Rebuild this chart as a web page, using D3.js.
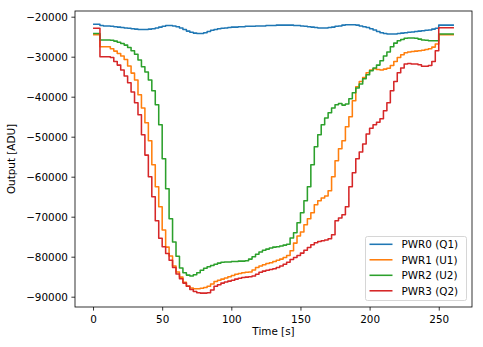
<!DOCTYPE html>
<html>
<head>
<meta charset="utf-8">
<script src="https://cdn.jsdelivr.net/npm/d3@7"></script>
<style>
  html, body { margin: 0; padding: 0; background: #fff; }
  svg { display: block; font-family: "DejaVu Sans", sans-serif; }
</style>
</head>
<body>
<svg id="chart" width="483" height="347"></svg>
<script>
// ---------- data ----------
const times = [
  0,2.5,5,7.5,10,12.5,15,17.5,20,22.5,
  25,27.5,30,32.5,35,37.5,40,42.5,45,47.5,
  50,52.5,55,57.5,60,62.5,65,67.5,70,72.5,
  75,77.5,80,82.5,85,87.5,90,92.5,95,97.5,
  100,102.5,105,107.5,110,112.5,115,117.5,120,122.5,
  125,127.5,130,132.5,135,137.5,140,142.5,145,147.5,
  150,152.5,155,157.5,160,162.5,165,167.5,170,172.5,
  175,177.5,180,182.5,185,187.5,190,192.5,195,197.5,
  200,202.5,205,207.5,210,212.5,215,217.5,220,222.5,
  225,227.5,230,232.5,235,237.5,240,242.5,245,247.5,
  250,252.5,255,257.5,260,261
];

const pwr0 = [
  -21900,-21900,-22200,-22300,-22300,-22400,-22500,-22600,-22700,-22800,
  -22900,-23000,-23100,-23200,-23200,-23200,-23100,-23000,-22800,-22600,
  -22400,-22200,-22200,-22300,-22500,-22800,-23200,-23600,-23900,-24100,
  -24200,-24200,-24000,-23700,-23400,-23200,-23000,-22900,-22800,-22700,
  -22600,-22600,-22500,-22500,-22400,-22400,-22400,-22300,-22300,-22300,
  -22200,-22200,-22200,-22100,-22100,-22100,-22100,-22100,-22200,-22200,
  -22300,-22400,-22500,-22600,-22700,-22800,-22800,-22800,-22700,-22600,
  -22400,-22300,-22100,-22000,-22000,-22000,-22100,-22300,-22500,-22700,
  -23000,-23300,-23700,-24000,-24200,-24300,-24300,-24300,-24200,-24100,
  -24000,-23900,-23800,-23700,-23600,-23500,-23400,-23300,-23100,-22900,
  -22100,-22100,-22100,-22100,-22100,-22100
];

const pwr1 = [
  -24500,-24500,-27500,-27500,-27500,-28000,-28600,-29200,-29800,-30700,
  -32300,-34100,-35800,-39500,-42800,-46500,-51000,-57000,-62500,-67500,
  -73300,-77600,-79800,-82300,-83800,-85100,-86400,-87300,-87800,-88000,
  -88000,-87900,-87700,-87400,-86800,-86200,-85900,-85600,-85300,-85000,
  -84700,-84400,-84200,-84000,-83900,-83800,-83300,-82700,-82300,-82000,
  -81700,-81500,-81200,-80900,-80600,-80200,-79700,-78500,-76600,-74800,
  -73800,-72000,-70500,-69000,-67000,-66000,-65300,-64800,-63500,-60000,
  -56000,-53000,-51000,-47500,-45000,-41000,-37500,-36200,-35200,-34000,
  -33300,-33000,-33200,-33300,-33100,-32900,-32200,-31200,-30200,-29500,
  -29000,-28800,-28700,-28600,-28500,-28400,-28200,-28000,-27600,-26800,
  -24500,-24500,-24500,-24500,-24500,-24500
];

const pwr2 = [
  -24200,-24200,-25800,-25800,-25800,-25900,-26100,-26400,-26700,-27100,
  -27700,-28500,-29400,-30800,-32500,-33800,-35800,-38500,-42000,-47000,
  -55500,-63000,-70500,-76300,-79900,-82800,-84000,-84600,-84800,-84500,
  -84000,-83400,-82900,-82500,-82200,-81900,-81600,-81400,-81300,-81300,
  -81200,-81200,-81100,-81100,-81000,-80600,-80000,-79400,-78800,-78400,
  -78100,-77800,-77600,-77500,-77300,-77100,-76900,-75300,-74000,-71500,
  -69000,-66000,-62500,-57000,-52500,-49500,-47000,-45300,-44000,-42800,
  -42000,-41700,-42100,-41800,-40500,-39000,-37800,-36800,-35500,-34500,
  -33500,-32800,-32100,-31000,-29800,-28800,-27500,-26600,-26000,-25700,
  -25400,-25300,-25300,-25400,-25600,-25800,-25900,-26000,-26000,-26000,
  -24300,-24300,-24300,-24300,-24300,-24300
];

const pwr3 = [
  -22900,-22900,-30000,-30000,-30000,-30200,-31200,-32100,-33300,-34800,
  -36500,-38800,-41500,-44500,-49500,-54600,-60000,-65000,-71000,-75400,
  -77500,-79200,-80900,-82700,-84300,-85500,-86600,-87400,-88200,-88700,
  -89000,-89100,-89100,-89000,-88300,-87400,-87000,-86600,-86300,-86100,
  -85900,-85600,-85400,-85200,-85100,-85000,-84800,-84400,-83900,-83600,
  -83400,-83200,-83000,-82700,-82300,-81900,-81400,-80700,-80200,-79700,
  -79100,-78400,-77700,-77000,-76500,-76200,-76000,-75800,-75500,-74500,
  -71000,-70300,-69500,-67500,-62500,-59000,-55500,-53800,-51800,-49300,
  -47900,-47000,-46400,-45500,-43500,-41500,-38500,-36200,-34000,-32800,
  -31800,-31700,-31800,-31800,-32000,-32400,-32400,-32200,-31200,-28500,
  -22750,-22750,-22750,-22750,-22750,-22750
];

const seriesNames = ["PWR0 (Q1)", "PWR1 (U1)", "PWR2 (U2)", "PWR3 (Q2)"];
const seriesValues = [pwr0, pwr1, pwr2, pwr3];
const seriesColors = ["#1f77b4", "#ff7f0e", "#2ca02c", "#d62728"];
const xTicks = [0, 50, 100, 150, 200, 250];
const yTicks = [-90000, -80000, -70000, -60000, -50000, -40000, -30000, -20000];
const xLabel = "Time [s]";
const yLabel = "Output [ADU]";

// ---------- layout ----------
const L = 75, R = 472, T = 11, B = 307;
const FS = 10.4;
const svg = d3.select("#chart");

const x = d3.scaleLinear().domain([-13.05, 274.05]).range([L, R]);
const y = d3.scaleLinear().domain([-92575, -18575]).range([B, T]);

// lines
const line = d3.line()
  .x(d => x(d[0]))
  .y(d => y(d[1]))
  .curve(d3.curveStepAfter);

svg.append("defs").append("clipPath").attr("id", "clip")
  .append("rect").attr("x", L).attr("y", T).attr("width", R - L).attr("height", B - T);

const gLines = svg.append("g").attr("clip-path", "url(#clip)");
seriesValues.forEach((vals, i) => {
  const pts = times.map((t, k) => [t, vals[k]]);
  gLines.append("path")
    .datum(pts)
    .attr("d", line)
    .attr("fill", "none")
    .attr("stroke", seriesColors[i])
    .attr("stroke-width", 1.55)
    .attr("stroke-linejoin", "round");
});

// axes
const fmt = d3.format("d");
const xAxis = d3.axisBottom(x).tickValues(xTicks).tickFormat(fmt).tickSizeInner(3.6).tickSizeOuter(0).tickPadding(3.5);
const yAxis = d3.axisLeft(y).tickValues(yTicks).tickFormat(fmt).tickSizeInner(3.6).tickSizeOuter(0).tickPadding(3.5);

const gx = svg.append("g").attr("transform", `translate(0,${B})`).call(xAxis);
const gy = svg.append("g").attr("transform", `translate(${L},0)`).call(yAxis);
[gx, gy].forEach(g => {
  g.select(".domain").remove();
  g.selectAll(".tick line").attr("stroke", "#000").attr("stroke-width", 0.8);
  g.selectAll(".tick text").attr("fill", "#000").attr("font-size", FS).attr("font-family", "DejaVu Sans");
});
gx.selectAll(".tick text").attr("dy", null).attr("y", 16);
gy.selectAll(".tick text").attr("dy", "0.35em");

// frame
svg.append("rect")
  .attr("x", L).attr("y", T).attr("width", R - L).attr("height", B - T)
  .attr("fill", "none").attr("stroke", "#000").attr("stroke-width", 0.8);

// axis labels
svg.append("text")
  .attr("x", (L + R) / 2).attr("y", 335)
  .attr("text-anchor", "middle").attr("font-size", FS).attr("fill", "#000")
  .text(xLabel);
svg.append("text")
  .attr("transform", `translate(14.5,${(T + B) / 2}) rotate(-90)`)
  .attr("text-anchor", "middle").attr("font-size", FS).attr("fill", "#000")
  .text(yLabel);

// legend
const lg = svg.append("g");
lg.append("rect")
  .attr("x", 365.5).attr("y", 236.5).attr("width", 101).attr("height", 64)
  .attr("rx", 2).attr("ry", 2)
  .attr("fill", "#fff").attr("fill-opacity", 0.8)
  .attr("stroke", "#cccccc").attr("stroke-width", 0.8);
seriesNames.forEach((name, i) => {
  const cy = 244.3 + i * 15.5;
  lg.append("line")
    .attr("x1", 369.5).attr("x2", 392.5).attr("y1", cy).attr("y2", cy)
    .attr("stroke", seriesColors[i]).attr("stroke-width", 1.55);
  lg.append("text")
    .attr("x", 401.5).attr("y", cy + 3.8)
    .attr("font-size", FS).attr("fill", "#000")
    .text(name);
});
</script>
</body>
</html>
